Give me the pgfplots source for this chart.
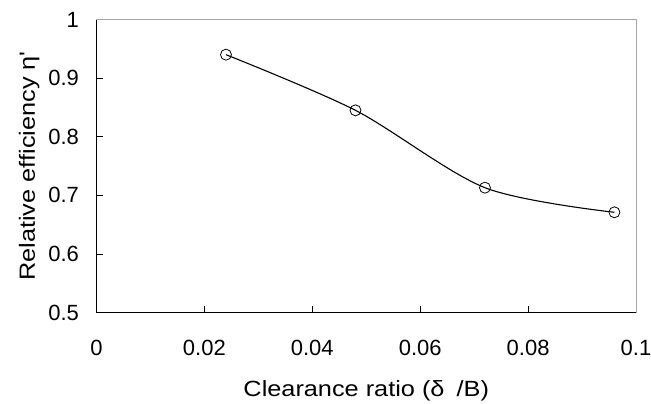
\documentclass[border=0pt]{standalone}
\usepackage{pgfplots}
\pgfplotsset{compat=1.18}
\usepackage{fontspec}
\setmainfont{Liberation Sans}
\newfontfamily\labfont[FakeStretch=1.15]{Liberation Sans}
\newfontfamily\tickfont{Liberation Sans}
\begin{document}
\begin{tikzpicture}[x=1bp,y=1bp]
\begin{axis}[
  at={(0,0)}, anchor=south west,
  scale only axis,
  width=539.5bp, height=293bp,
  xmin=0, xmax=0.1, ymin=0.5, ymax=1,
  xtick={0,0.02,0.04,0.06,0.08,0.1},
  ytick={0.5,0.6,0.7,0.8,0.9,1},
  xticklabels={0,0.02,0.04,0.06,0.08,0.1},
  yticklabels={0.5,0.6,0.7,0.8,0.9,1},
  xtick pos=left, ytick pos=left,
  tick align=inside,
  major tick length=7bp,
  tick style={black, line width=0.8bp},
  axis line style={black, line width=1bp},
  ticklabel style={font=\tickfont\fontsize{22bp}{25bp}\selectfont},
  xticklabel style={yshift=-24bp},
  yticklabel style={xshift=-14bp},
  label style={font=\labfont\fontsize{22bp}{25bp}\selectfont},
  xlabel={Clearance ratio (δ\hspace{0.55em}/B)},
  ylabel={Relative efficiency η'},
  xlabel style={yshift=-18bp},
  ylabel style={yshift=2bp},
  clip=false,
]
\addplot[black, line width=1.1bp, smooth, tension=0.5, mark=o, mark size=5.5bp,
  mark options={line width=0.8bp, fill=none}]
  coordinates {(0.024,0.94) (0.048,0.845) (0.072,0.713) (0.096,0.671)};
\draw[gray!70, line width=1bp] (rel axis cs:0,1) -- (rel axis cs:1,1) -- (rel axis cs:1,0);
\end{axis}
\pgfresetboundingbox
\path[use as bounding box] (-96.5,-90.5) rectangle (554.5,312.5);
\end{tikzpicture}
\end{document}
